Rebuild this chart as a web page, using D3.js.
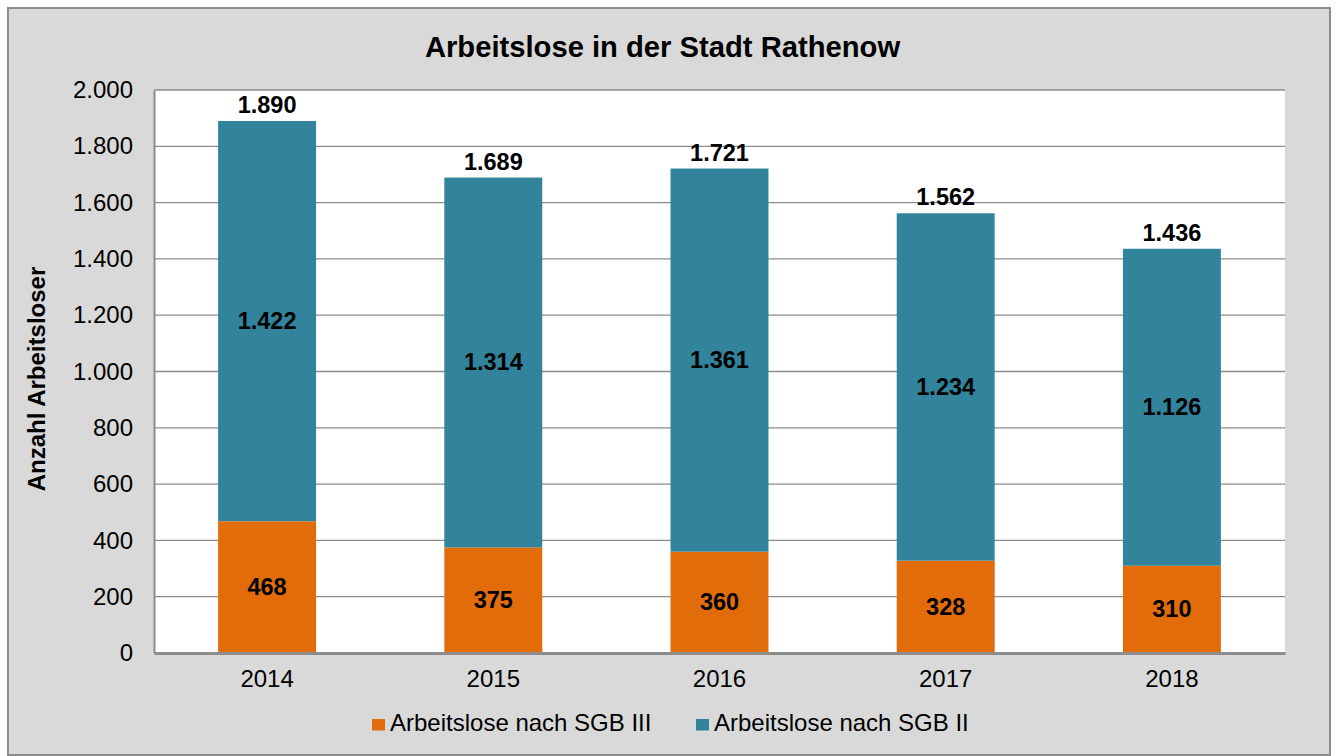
<!DOCTYPE html>
<html><head><meta charset="utf-8">
<script src="https://cdn.jsdelivr.net/npm/d3@7"></script>
<style>body{margin:0;background:#fff;font-family:"Liberation Sans",Arial,sans-serif;} svg text{font-family:"Liberation Sans",Arial,sans-serif;}</style>
</head><body><svg id="c" width="1336" height="756"></svg>
<script>
const years = ["2014","2015","2016","2017","2018"];
const sgb3 = [468,375,360,328,310];
const sgb2 = [1422,1314,1361,1234,1126];
const totals = [1890,1689,1721,1562,1436];
const yTicks = [0,200,400,600,800,1000,1200,1400,1600,1800,2000];
const seriesNames = ["Arbeitslose nach SGB III","Arbeitslose nach SGB II"];
const colors = ["#e36c0a","#31849b"];

const svg = d3.select("#c");
const fmt = v => d3.format(",")(v).replace(/,/g,".");
svg.append("rect").attr("x",8).attr("y",8).attr("width",1322).attr("height",747)
  .attr("fill","#d9d9d9").attr("stroke","#8c8c8c").attr("stroke-width",2);

const L=154,R=1285,T=90,B=653;
svg.append("rect").attr("x",L).attr("y",T).attr("width",R-L).attr("height",B-T).attr("fill","#fff");
const x = d3.scaleBand().domain(years).range([L,R]).paddingInner(0.567).paddingOuter(0.2835);
const y = d3.scaleLinear().domain([0,2000]).range([B,T]);

const g = svg.append("g");
g.selectAll(".grid").data(yTicks.filter(d=>d>0)).join("line")
  .attr("x1",L).attr("x2",R).attr("y1",d=>y(d)).attr("y2",d=>y(d))
  .attr("stroke","#8c8c8c").attr("stroke-width",1.3);

const stack = years.map((yr,i)=>({yr,a:sgb3[i],b:sgb2[i],t:totals[i]}));
g.selectAll(".b3").data(stack).join("rect").attr("x",d=>x(d.yr)).attr("width",x.bandwidth())
  .attr("y",d=>y(d.a)).attr("height",d=>y(0)-y(d.a)).attr("fill",colors[0]);
g.selectAll(".b2").data(stack).join("rect").attr("x",d=>x(d.yr)).attr("width",x.bandwidth())
  .attr("y",d=>y(d.a+d.b)).attr("height",d=>y(d.a)-y(d.a+d.b)).attr("fill",colors[1]);

const lab = (sel)=>sel.attr("text-anchor","middle").attr("font-weight","bold").attr("font-size",23.5).attr("fill","#000");
g.selectAll(".l3").data(stack).join("text").call(lab)
  .attr("x",d=>x(d.yr)+x.bandwidth()/2).attr("y",d=>y(d.a/2)+8).text(d=>fmt(d.a));
g.selectAll(".l2").data(stack).join("text").call(lab)
  .attr("x",d=>x(d.yr)+x.bandwidth()/2).attr("y",d=>y(d.a+d.b/2)+8).text(d=>fmt(d.b));
g.selectAll(".lt").data(stack).join("text").call(lab)
  .attr("x",d=>x(d.yr)+x.bandwidth()/2).attr("y",d=>y(d.t)-8).text(d=>fmt(d.t));

// axes
const ya = svg.append("g").attr("transform",`translate(${L},0)`)
  .call(d3.axisLeft(y).tickValues(yTicks).tickFormat(fmt).tickSize(0).tickPadding(21));
ya.select(".domain").attr("stroke","#8c8c8c").attr("stroke-width",2);
ya.selectAll("text").attr("font-size",24).attr("font-family","Liberation Sans, Arial").attr("fill","#000");
const xa = svg.append("g").attr("transform",`translate(0,${B})`)
  .call(d3.axisBottom(x).tickSize(0).tickPadding(17));
xa.select(".domain").attr("stroke","#8c8c8c").attr("stroke-width",3);
xa.selectAll("text").attr("font-size",24).attr("font-family","Liberation Sans, Arial").attr("fill","#000");

svg.append("text").attr("x",662.5).attr("y",57).attr("text-anchor","middle").attr("font-weight","bold")
  .attr("font-size",29.2).text("Arbeitslose in der Stadt Rathenow");
svg.append("text").attr("transform","translate(45,379) rotate(-90)").attr("text-anchor","middle")
  .attr("font-weight","bold").attr("font-size",24).text("Anzahl Arbeitsloser");

const leg = svg.append("g");
const lx=[372,696];
seriesNames.forEach((n,i)=>{
  leg.append("rect").attr("x",lx[i]).attr("y",719).attr("width",13).attr("height",11.5).attr("fill",colors[i]);
  leg.append("text").attr("x",lx[i]+18).attr("y",731).attr("font-size",24).text(n);
});
</script></body></html>
